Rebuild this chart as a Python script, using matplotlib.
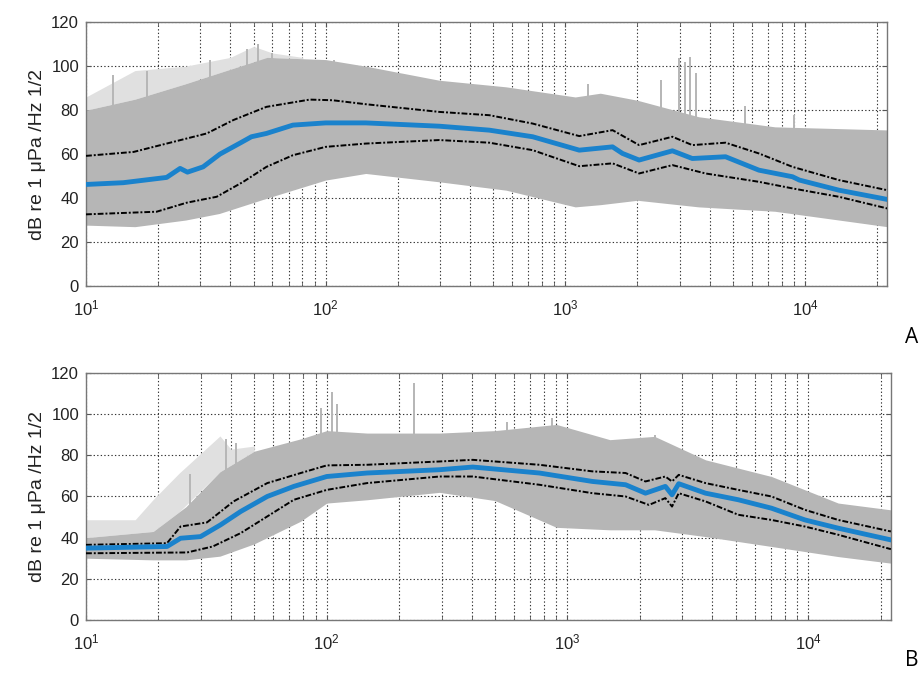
import numpy as np
import matplotlib
matplotlib.use("Agg")
import matplotlib.pyplot as plt
from matplotlib.ticker import LogLocator

plt.rcParams['font.family'] = ['Liberation Sans', 'DejaVu Sans']
plt.rcParams['mathtext.fontset'] = 'custom'
plt.rcParams['mathtext.rm'] = 'Liberation Sans'
plt.rcParams['mathtext.it'] = 'Liberation Sans'

FMAX = 22050

# ---- panel A ----
a_med_f = [10, 14.3, 21.7, 24.7, 26.5, 30.8, 36.2, 43.9, 49, 56.6, 73, 100, 147, 298, 482, 731, 1144,
           1575, 1733, 2033, 2800, 3390, 4665, 6430, 8880, 9480, 13860, 22050]
a_med = [46.2, 47, 49.4, 53.5, 51.8, 54.2, 60, 65, 67.9, 69.4, 73.2, 74.2, 74.2, 72.7, 70.9, 67.9, 61.8,
         63.3, 60.3, 57.3, 61.5, 58, 58.8, 52.7, 49.7, 48.2, 43.6, 39.4]

a_hi_f = [10, 15.8, 21.7, 31.9, 41.2, 56.6, 85.8, 107, 147, 298, 482, 731, 1144, 1575, 2033, 2800,
          3390, 4665, 6430, 8880, 13860, 22050]
a_hi = [59.2, 61, 64.8, 69.4, 75.5, 81.5, 84.8, 84.5, 82.7, 79.2, 77.7, 73.9, 68.2, 70.9, 64.1, 67.9,
        64.1, 65.2, 60.3, 54.2, 48.2, 43.6]

a_lo_f = [10, 19.7, 26.3, 35.1, 45.3, 56.6, 73, 100, 147, 298, 482, 731, 1144, 1575, 2033, 2800,
          3850, 6430, 8880, 13860, 22050]
a_lo = [32.6, 33.8, 37.9, 40.6, 47.4, 54.2, 59.5, 63.3, 64.8, 66.4, 65.2, 61.8, 54.5, 55.8, 51.2, 55,
        51.2, 47.4, 44.4, 40.6, 35.3]

a_band_f = [10, 16, 26, 36, 57, 100, 147, 298, 566, 1100, 1400, 2000, 3600, 7500, 22050]
a_band_hi = [80, 85, 92, 97, 104, 103, 100, 93.6, 90.6, 86, 87.7, 84.5, 77, 72.4, 71]
a_band_lo = [27.7, 27, 30, 33, 40, 48.2, 51.2, 47.4, 43.6, 36, 37, 39, 36, 34, 27]

a_out_f = [10, 16, 26, 40, 50, 60, 80]
a_out_hi = [86, 98, 100, 104, 109, 106, 104]

a_spike_f = [13, 18, 33, 47, 52, 60, 108, 1250, 2510, 2990, 3150, 3300, 3510, 5600, 9000]
a_spike = [96, 98, 103, 108, 110, 106, 103, 92, 93.6, 103.6, 102, 104, 97, 82, 78]

# ---- panel B ----
b_med_f = [10, 21.7, 24.7, 29.9, 36.2, 43.9, 56.6, 73, 100, 147, 294, 404, 764, 1269, 1743, 2108, 2550,
           2718, 2898, 3745, 5125, 7040, 9690, 13320, 22050]
b_med = [34.9, 35.7, 39.7, 40.5, 46.2, 52.7, 60, 64.9, 69.7, 71.4, 73, 74.3, 71.4, 67.3, 65.7, 61.6, 64.9,
         60.8, 66.2, 61.6, 58.4, 54.3, 48.6, 44.6, 38.9]

b_hi_f = [10, 21.7, 24.7, 31.8, 41, 56.6, 78, 100, 147, 294, 404, 764, 1269, 1743, 2108, 2550, 2718,
          2898, 3745, 5125, 7040, 9690, 13320, 22050]
b_hi = [36.5, 37.3, 45.4, 47.4, 57.6, 66.5, 71.4, 75.1, 75.4, 77, 77.8, 75.4, 72.2, 71.4, 67.3, 69.7,
        67.3, 70.5, 66.5, 63.2, 60, 53.5, 48.6, 43]

b_lo_f = [10, 26.3, 33.6, 43.9, 56.6, 73, 100, 147, 294, 404, 764, 1269, 1743, 2180, 2550, 2718, 2898,
          3745, 5125, 7040, 9690, 13320, 22050]
b_lo = [32.4, 32.8, 35.7, 42.2, 50.3, 58.4, 63.2, 66.5, 69.7, 69.7, 65.7, 61.6, 60, 55.9, 59.2, 55.1,
        61.6, 57.6, 51.1, 48.6, 45.4, 41.4, 34.4]

b_band_f = [10, 19, 26, 36, 50, 78, 100, 147, 294, 500, 900, 1500, 2300, 3745, 7040, 13320, 22050]
b_band_hi = [40, 43, 55, 72, 82, 88, 92, 90.8, 90.8, 92, 95, 87.6, 89.2, 77.8, 69.7, 56.8, 53.5]
b_band_lo = [30, 29.2, 29.2, 31, 37, 48, 56.8, 58.4, 62, 58, 45, 43.8, 43.8, 40.5, 35.7, 30.8, 27.6]

b_out_f = [10, 16, 19, 24.4, 36, 40, 50]
b_out_hi = [48.7, 48.7, 58.5, 71.4, 89.4, 83, 84.5]

b_spike_f = [27, 38, 42, 95, 105, 110, 230, 560, 860, 2300]
b_spike = [71, 88, 86, 103, 111, 105, 115, 96, 98, 90]

BLUE = '#1a82cc'
GRAY = '#b6b6b6'
LIGHT = '#e0e0e0'
GRID = '#333333'


def draw_panel(ax, band_f, band_hi, band_lo, out_f, out_hi, spike_f, spike,
               hi_f, hi, lo_f, lo, med_f, med):
    # faint outlying spectra, then the main body of spectra
    out_lo = np.interp(np.log10(out_f), np.log10(band_f), band_hi)
    ax.fill_between(out_f, out_lo, out_hi, color=LIGHT, lw=0, zorder=2)
    ax.fill_between(band_f, band_lo, band_hi, color=GRAY, lw=0, zorder=2)
    base = np.interp(np.log10(spike_f), np.log10(band_f), band_hi)
    ax.vlines(spike_f, base - 5, spike, color=GRAY, lw=1.4, zorder=2)
    ax.plot(hi_f, hi, color='black', lw=1.4, ls=(0, (3, 1, 1, 1)), zorder=3)
    ax.plot(lo_f, lo, color='black', lw=1.4, ls=(0, (3, 1, 1, 1)), zorder=3)
    ax.plot(med_f, med, color=BLUE, lw=3.5, zorder=4)

    ax.set_xscale('log')
    ax.set_xlim(10, FMAX)
    ax.set_ylim(0, 120)
    ax.set_yticks(range(0, 121, 20))
    ax.xaxis.set_major_locator(LogLocator(base=10, numticks=10))
    ax.xaxis.set_minor_locator(LogLocator(base=10, subs=np.arange(2, 10), numticks=20))
    ax.set_axisbelow(True)
    ax.grid(True, which='both', axis='x', color=GRID, ls=(0, (1.2, 2)), lw=0.8)
    ax.grid(True, which='major', axis='y', color=GRID, ls=(0, (1.2, 2)), lw=0.8)
    ax.tick_params(which='both', direction='in', top=True, right=True, labelsize=12,
                   colors='#555555', labelcolor='#222222')
    ax.tick_params(axis='x', which='major', pad=9)
    ax.tick_params(axis='y', pad=5)
    ax.tick_params(which='minor', length=3)
    for s in ax.spines.values():
        s.set_color('#777777')
        s.set_linewidth(1.0)
    ax.set_ylabel('dB re 1 μPa /Hz 1/2', fontsize=14, labelpad=4, color='#222222')


fig = plt.figure(figsize=(9.23, 6.73), dpi=100)
ax1 = fig.add_axes([0.0932, 0.575, 0.868, 0.392])
ax2 = fig.add_axes([0.0932, 0.0788, 0.872, 0.367])

draw_panel(ax1, a_band_f, a_band_hi, a_band_lo, a_out_f, a_out_hi, a_spike_f, a_spike,
           a_hi_f, a_hi, a_lo_f, a_lo, a_med_f, a_med)
draw_panel(ax2, b_band_f, b_band_hi, b_band_lo, b_out_f, b_out_hi, b_spike_f, b_spike,
           b_hi_f, b_hi, b_lo_f, b_lo, b_med_f, b_med)

fig.text(0.988, 0.498, 'A', fontsize=15, ha='center', va='center', family='Open Sans')
fig.text(0.988, 0.018, 'B', fontsize=15, ha='center', va='center', family='Open Sans')

fig.savefig('out.png', dpi=100)
